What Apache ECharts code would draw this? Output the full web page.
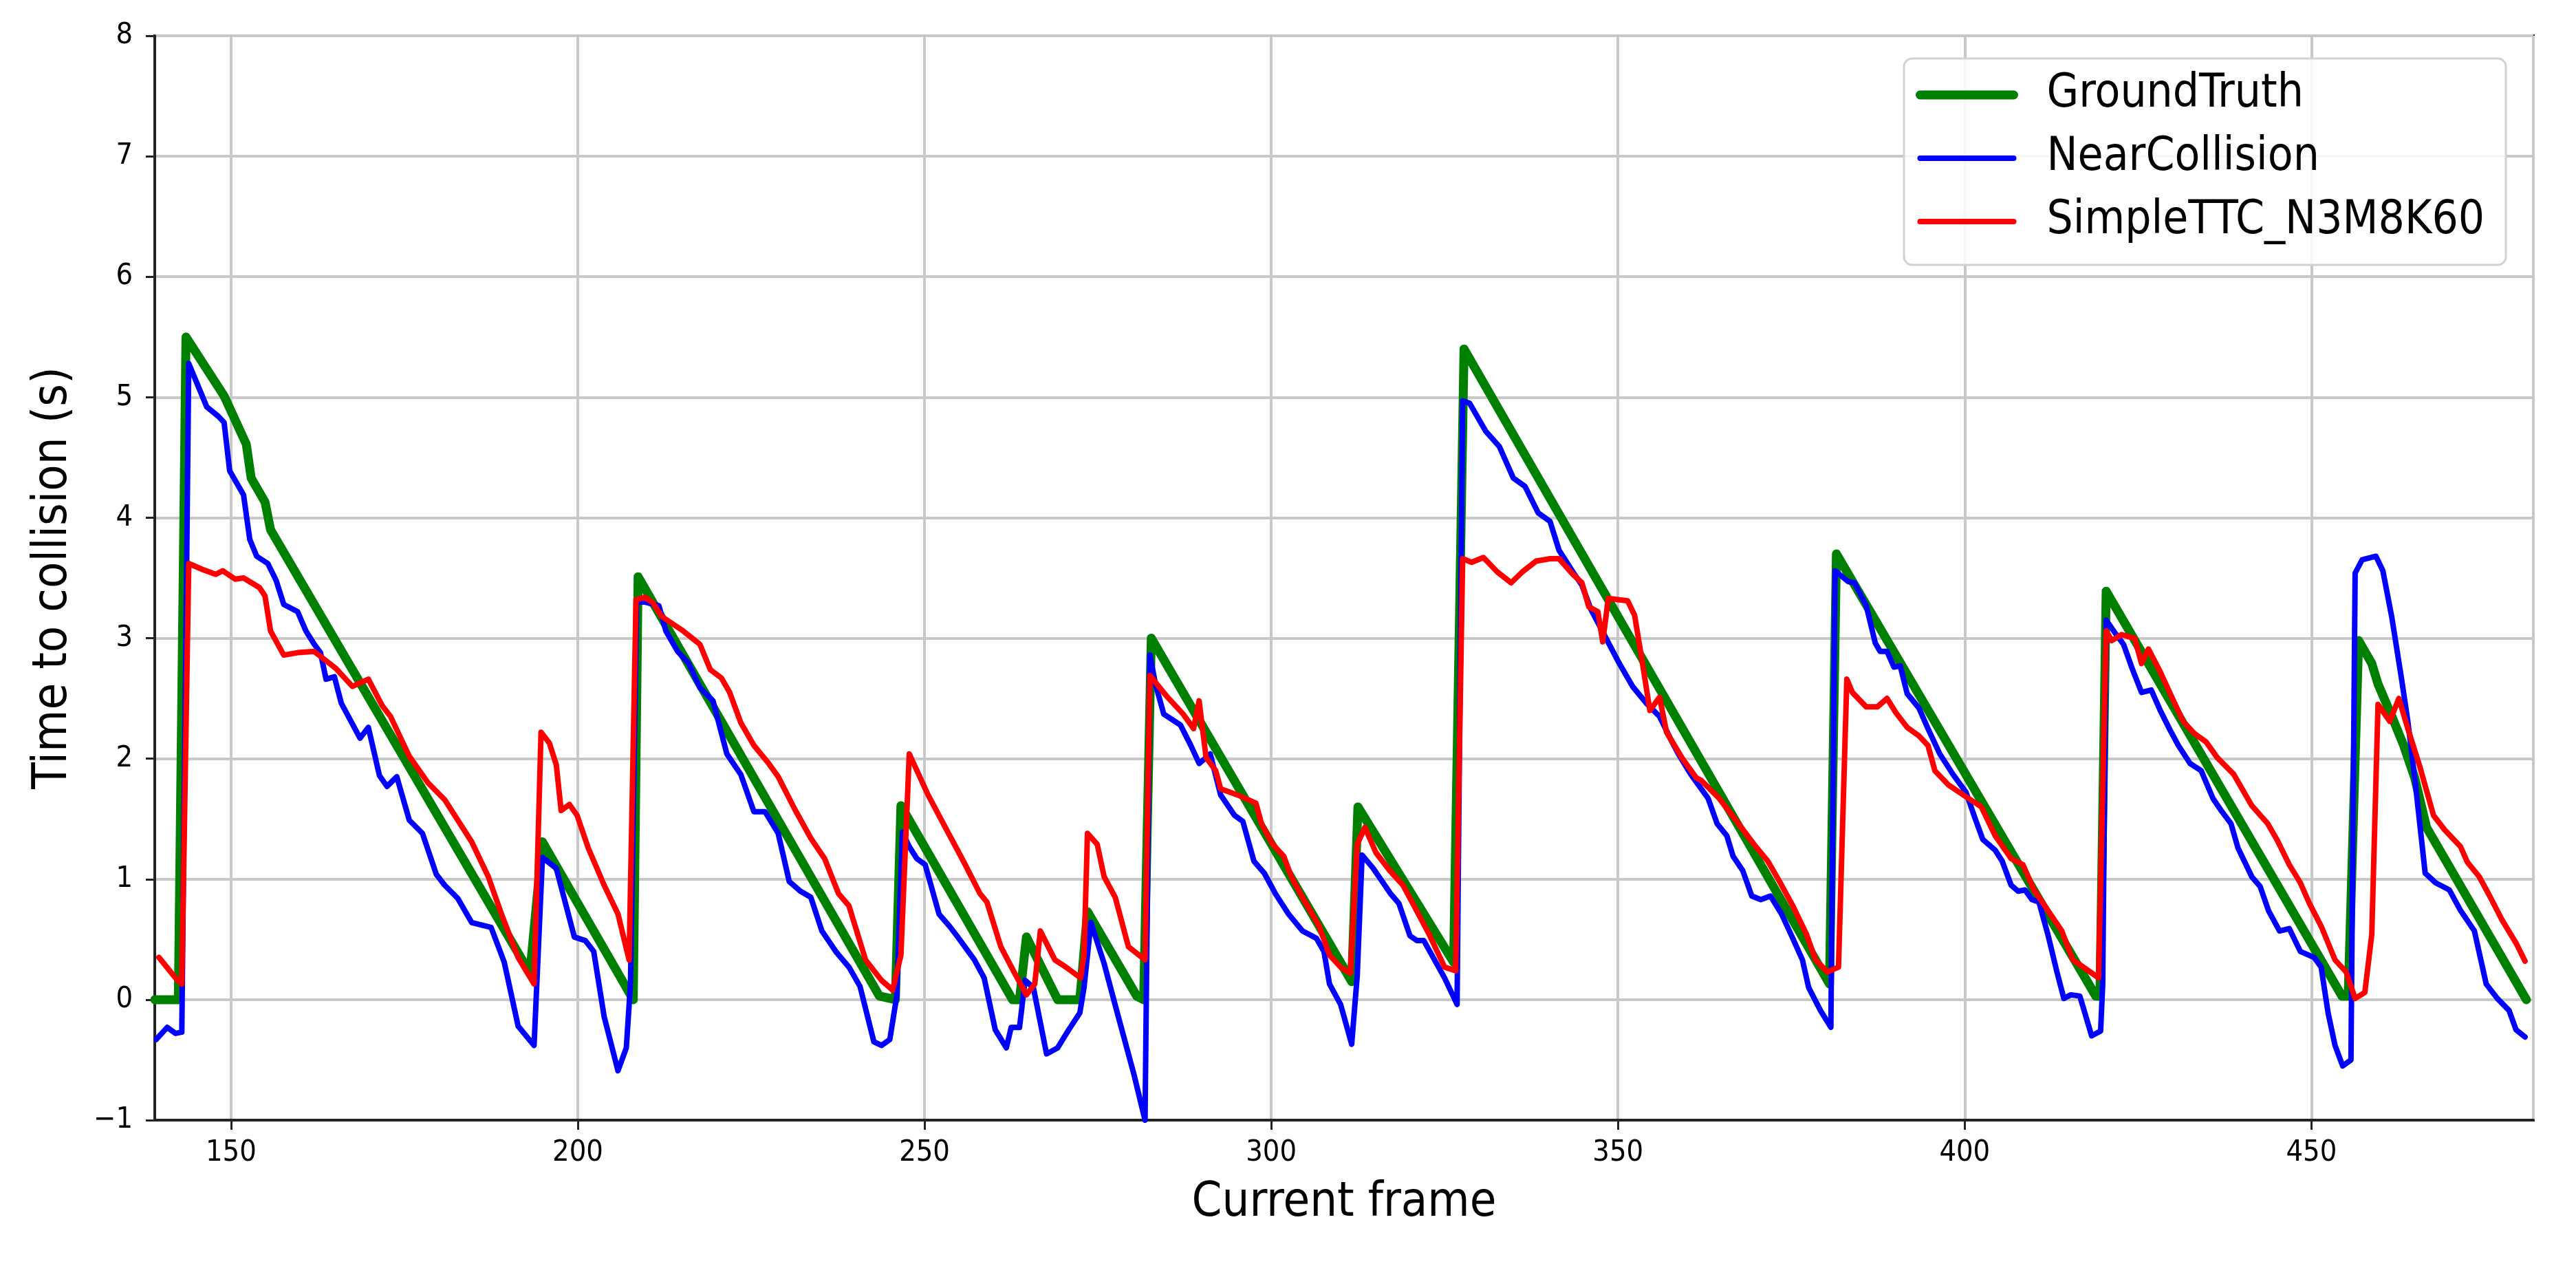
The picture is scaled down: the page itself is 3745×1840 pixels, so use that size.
<!DOCTYPE html>
<html>
<head>
<meta charset="utf-8">
<script src="https://cdn.jsdelivr.net/npm/echarts/dist/echarts.min.js"></script>
<style>
    html, body { margin: 0; padding: 0; background: #fff; }
    #chart { width: 3745px; height: 1840px; }
</style>
</head>
<body>
<div id="chart"></div>
<script>
// series names
var seriesNames = ['GroundTruth', 'NearCollision', 'SimpleTTC_N3M8K60'];

// GroundTruth (frame, ttc) - piecewise linear, read at its corners
var gtFrames = [139, 142.4, 143.5, 149.0, 152.2, 152.9, 154.9, 155.7, 193.1, 194.9, 207.0, 208.0, 208.7,
    243.5, 245.8, 246.6, 262.7, 263.7, 264.7, 269.2, 272.4, 273.5, 280.6, 281.6, 282.7, 311.6, 312.5,
    326.3, 327.8, 380.5, 381.5, 418.9, 419.5, 420.4, 454.4, 455.3, 456.8, 458.7, 459.6, 461.6, 463.3,
    464.9, 466.6, 481.0];
var gtTtc = [0, 0, 5.5, 5.01, 4.61, 4.33, 4.13, 3.9, 0.22, 1.31, 0.1, 0, 3.51,
    0.03, 0, 1.61, 0, 0, 0.52, 0, 0, 0.73, 0.03, 0, 3.0, 0.15, 1.6,
    0.31, 5.4, 0.13, 3.7, 0.03, 0.03, 3.39, 0.03, 0.03, 2.98, 2.79, 2.62, 2.35, 2.11,
    1.84, 1.43, 0];

// NearCollision
var ncFrames = [139.2, 140.8, 142.0, 142.9, 143.9, 146.5, 148.2, 149.0, 149.8, 151.8, 152.7, 153.7, 155.3,
    156.5, 157.6, 159.6, 160.8, 162.0, 162.9, 163.7, 164.9, 165.9, 168.6, 169.8, 171.4, 172.5, 173.9,
    175.7, 177.6, 179.6, 180.8, 182.7, 184.7, 187.5, 189.4, 191.4, 193.7, 194.9, 196.9, 199.5, 201.1,
    202.3, 203.8, 205.8, 207.0, 207.6, 208.5, 209.7, 211.7, 212.7, 214.4, 216.0, 217.6, 219.5, 221.5,
    223.5, 225.4, 227.0, 228.9, 230.5, 232.1, 233.6, 235.2, 237.2, 239.1, 240.7, 242.7, 243.8, 245.0,
    246.0, 246.8, 247.8, 248.9, 250.1, 252.1, 253.6, 254.8, 257.2, 258.6, 260.2, 261.8, 262.5, 263.7,
    264.5, 265.7, 267.6, 269.2, 270.8, 272.4, 273.0, 274.0, 275.9, 277.8, 280.2, 281.8, 282.5, 283.3,
    284.5, 286.9, 288.4, 289.6, 291.2, 292.7, 294.7, 295.9, 297.5, 299.0, 300.6, 302.5, 304.5, 306.5,
    307.6, 308.4, 310.0, 311.6, 312.4, 313.1, 314.7, 317.2, 318.4, 320.0, 321.0, 322.0, 325.0, 326.8,
    327.6, 328.6, 330.9, 332.9, 334.9, 336.6, 338.5, 340.2, 341.5, 343.5, 344.8, 346.1, 348.1, 350.1,
    352.1, 354.1, 356.0, 357.7, 358.7, 360.5, 363.0, 364.3, 365.7, 366.6, 368.0, 369.3, 370.6, 372.0,
    373.6, 375.2, 376.6, 377.5, 379.2, 380.7, 381.3, 383.2, 384.1, 385.8, 387.1, 387.8, 388.8, 389.8,
    390.7, 391.7, 393.4, 394.7, 396.4, 398.3, 400.2, 401.4, 402.6, 404.4, 405.4, 406.7, 407.7, 408.7,
    409.7, 410.7, 412.0, 413.3, 414.3, 415.3, 416.6, 418.3, 419.6, 419.9, 420.4, 421.6, 422.9, 424.2,
    425.5, 426.9, 428.2, 429.5, 430.8, 432.5, 434.1, 435.8, 437.1, 438.4, 439.4, 441.4, 442.6, 443.8,
    445.4, 446.8, 448.4, 450.4, 451.4, 452.4, 453.4, 454.5, 455.7, 456.3, 457.3, 459.3, 460.3, 461.6,
    463.0, 463.9, 464.9, 466.4, 467.9, 469.9, 471.5, 473.5, 475.2, 476.8, 478.5, 479.5, 480.8];
var ncTtc = [-0.33, -0.23, -0.28, -0.27, 5.28, 4.92, 4.84, 4.79, 4.39, 4.19, 3.82, 3.68, 3.62,
    3.48, 3.28, 3.22, 3.06, 2.95, 2.88, 2.66, 2.68, 2.46, 2.17, 2.26, 1.86, 1.77, 1.85,
    1.49, 1.38, 1.04, 0.95, 0.84, 0.64, 0.6, 0.31, -0.22, -0.38, 1.18, 1.09, 0.52, 0.49,
    0.4, -0.14, -0.59, -0.4, 0.13, 3.3, 3.3, 3.27, 3.06, 2.89, 2.79, 2.59, 2.48, 2.04,
    1.87, 1.56, 1.56, 1.38, 0.98, 0.9, 0.85, 0.57, 0.4, 0.27, 0.11, -0.35, -0.38, -0.33,
    0.03, 1.39, 1.27, 1.17, 1.12, 0.71, 0.61, 0.52, 0.33, 0.18, -0.25, -0.4, -0.23, -0.23,
    0.16, 0.1, -0.45, -0.4, -0.25, -0.11, 0.1, 0.64, 0.3, -0.11, -0.62, -1.0, 2.86, 2.62,
    2.37, 2.28, 2.11, 1.96, 2.04, 1.7, 1.53, 1.48, 1.15, 1.05, 0.88, 0.71, 0.57, 0.51,
    0.4, 0.13, -0.04, -0.37, 0.2, 1.2, 1.09, 0.88, 0.8, 0.53, 0.49, 0.49, 0.18, -0.04,
    4.97, 4.95, 4.72, 4.59, 4.33, 4.26, 4.04, 3.97, 3.73, 3.55, 3.44, 3.24, 3.02, 2.8,
    2.6, 2.46, 2.35, 2.15, 2.04, 1.87, 1.67, 1.46, 1.36, 1.19, 1.07, 0.86, 0.83, 0.86,
    0.71, 0.51, 0.33, 0.1, -0.09, -0.23, 3.56, 3.47, 3.46, 3.27, 2.96, 2.89, 2.89, 2.76,
    2.77, 2.54, 2.42, 2.25, 2.04, 1.87, 1.72, 1.52, 1.33, 1.24, 1.15, 0.95, 0.9, 0.91,
    0.83, 0.81, 0.54, 0.23, 0.01, 0.04, 0.03, -0.3, -0.26, 0.13, 3.15, 3.05, 2.95, 2.74,
    2.55, 2.57, 2.4, 2.25, 2.11, 1.96, 1.9, 1.67, 1.56, 1.46, 1.26, 1.02, 0.94, 0.74,
    0.57, 0.59, 0.4, 0.35, 0.27, -0.11, -0.38, -0.55, -0.5, 3.54, 3.65, 3.68, 3.56, 3.17,
    2.66, 2.31, 1.84, 1.05, 0.97, 0.91, 0.74, 0.57, 0.13, 0.01, -0.09, -0.25, -0.31];

// SimpleTTC_N3M8K60
var stFrames = [139.6, 142.0, 142.9, 143.9, 145.9, 147.8, 148.8, 150.6, 151.8, 154.1, 154.9, 155.7, 157.6,
    159.6, 162.0, 165.1, 167.5, 169.8, 171.8, 173.0, 175.7, 178.4, 180.8, 184.7, 187.1, 189.0, 191.4,
    193.7, 194.7, 195.9, 196.9, 197.6, 198.8, 199.9, 201.5, 203.8, 205.8, 207.4, 208.4, 209.7, 210.9,
    212.1, 215.2, 217.6, 219.1, 220.7, 221.9, 223.5, 225.4, 227.4, 228.9, 231.3, 233.6, 235.6, 237.6,
    239.1, 241.5, 243.8, 245.4, 246.6, 247.8, 250.5, 252.9, 255.6, 258.0, 259.0, 261.0, 262.9, 264.7,
    265.9, 266.7, 268.8, 270.4, 272.5, 273.0, 273.5, 274.9, 275.9, 277.5, 279.4, 281.8, 282.5, 284.9,
    287.3, 288.8, 289.6, 290.6, 292.0, 292.7, 295.1, 297.8, 298.6, 300.2, 301.8, 302.9, 304.5, 306.9,
    308.4, 310.0, 311.4, 312.4, 313.5, 315.1, 317.1, 319.0, 320.4, 322.7, 325.0, 326.6, 327.6, 328.9,
    330.6, 332.6, 334.6, 336.2, 338.2, 340.2, 341.5, 343.5, 344.8, 345.8, 347.1, 347.8, 348.6, 351.4,
    352.4, 353.4, 354.6, 356.0, 357.0, 359.3, 361.3, 362.0, 364.6, 367.0, 369.6, 371.6, 373.3, 375.2,
    377.2, 378.5, 380.2, 381.8, 383.0, 383.8, 385.8, 387.4, 388.8, 390.1, 391.7, 393.4, 394.7, 395.7,
    397.7, 400.3, 402.4, 404.4, 406.7, 408.4, 410.0, 412.0, 414.0, 415.6, 417.6, 419.3, 420.4, 421.2,
    422.6, 424.5, 425.5, 426.5, 428.2, 429.8, 431.5, 433.1, 434.8, 436.4, 438.8, 441.4, 443.7, 445.1,
    446.8, 448.4, 449.7, 451.4, 453.4, 455.0, 456.3, 457.7, 458.7, 459.6, 461.3, 462.6, 463.9, 465.6,
    467.6, 469.2, 471.5, 472.5, 474.2, 475.8, 477.5, 479.5, 480.8];
var stTtc = [0.35, 0.18, 0.13, 3.62, 3.57, 3.53, 3.56, 3.49, 3.5, 3.42, 3.35, 3.06, 2.86,
    2.88, 2.89, 2.75, 2.6, 2.66, 2.44, 2.35, 2.02, 1.8, 1.66, 1.31, 1.02, 0.71, 0.35,
    0.13, 2.22, 2.13, 1.95, 1.57, 1.62, 1.53, 1.26, 0.95, 0.71, 0.33, 3.32, 3.34, 3.29,
    3.18, 3.06, 2.95, 2.74, 2.67, 2.55, 2.3, 2.11, 1.97, 1.85, 1.58, 1.34, 1.17, 0.88,
    0.78, 0.33, 0.16, 0.08, 0.37, 2.04, 1.7, 1.44, 1.15, 0.88, 0.81, 0.44, 0.23, 0.04,
    0.13, 0.57, 0.33, 0.27, 0.18, 0.37, 1.38, 1.29, 1.02, 0.85, 0.44, 0.33, 2.69, 2.52,
    2.37, 2.25, 2.48, 2.01, 1.9, 1.75, 1.7, 1.63, 1.46, 1.29, 1.19, 1.02, 0.85, 0.61,
    0.37, 0.27, 0.22, 1.29, 1.43, 1.22, 1.07, 0.95, 0.8, 0.55, 0.27, 0.24, 3.66, 3.63,
    3.67, 3.55, 3.46, 3.55, 3.64, 3.66, 3.66, 3.53, 3.46, 3.26, 3.22, 2.97, 3.33, 3.31,
    3.19, 2.84, 2.4, 2.51, 2.22, 2.0, 1.84, 1.82, 1.67, 1.49, 1.29, 1.15, 0.98, 0.78,
    0.54, 0.33, 0.23, 0.27, 2.66, 2.55, 2.43, 2.43, 2.5, 2.38, 2.26, 2.19, 2.11, 1.9,
    1.78, 1.68, 1.6, 1.36, 1.17, 1.12, 0.91, 0.74, 0.57, 0.33, 0.25, 0.18, 3.06, 2.98,
    3.03, 3.0, 2.79, 2.91, 2.72, 2.52, 2.31, 2.21, 2.14, 2.01, 1.87, 1.61, 1.46, 1.32,
    1.12, 0.97, 0.8, 0.61, 0.33, 0.23, 0.01, 0.06, 0.54, 2.45, 2.31, 2.5, 2.25, 1.94,
    1.53, 1.41, 1.27, 1.14, 1.02, 0.85, 0.66, 0.47, 0.32];

var xMin = 139, xMax = 482;
var yMin = -1, yMax = 8;

var FONT = "'DejaVu Sans Condensed', 'Liberation Sans', sans-serif";

function pairs(xs, ys) {
    return xs.map(function (x, i) { return [x, ys[i]]; });
}

var chart = echarts.init(document.getElementById('chart'), null, { renderer: 'canvas' });

var axisColor = '#222';
var gridColor = '#c8c8c8';

chart.setOption({
    animation: false,
    backgroundColor: '#fff',
    grid: {
        left: 225, right: 62, top: 52, bottom: 212,
        show: true, borderColor: axisColor, borderWidth: 4
    },
    legend: {
        orient: 'vertical',
        left: 2768, top: 85,
        padding: [18, 31, 28, 17],
        itemWidth: 136, itemHeight: 14,
        itemGap: 22,
        backgroundColor: 'rgba(255,255,255,0.85)',
        borderColor: '#d2d2d2', borderWidth: 3, borderRadius: 12,
        lineStyle: { width: 'inherit' },
        itemStyle: { opacity: 0 },
        textStyle: { fontFamily: FONT, fontSize: 67, color: '#000', lineHeight: 70, padding: [0, 0, 0, 43] },
        data: seriesNames
    },
    xAxis: {
        type: 'value',
        min: xMin, max: xMax, splitNumber: 7,
        name: 'Current frame', nameLocation: 'middle', nameGap: 86,
        nameTextStyle: { fontFamily: FONT, fontSize: 70, color: '#000' },
        axisLine: { show: true, onZero: false, lineStyle: { color: axisColor, width: 4 } },
        axisTick: { show: true, length: 14, lineStyle: { color: axisColor, width: 3 } },
        axisLabel: {
            margin: 26, fontFamily: FONT, fontSize: 43, color: '#000',
            showMinLabel: false, showMaxLabel: false,
            formatter: function (v) { return v % 50 === 0 ? String(v) : ''; }
        },
        splitLine: { show: true, lineStyle: { color: gridColor, width: 4 } }
    },
    yAxis: {
        type: 'value',
        min: yMin, max: yMax, interval: 1,
        name: 'Time to collision (s)', nameLocation: 'middle', nameGap: 112, nameRotate: 90,
        nameTextStyle: { fontFamily: FONT, fontSize: 70, color: '#000' },
        axisLine: { show: true, onZero: false, lineStyle: { color: axisColor, width: 4 } },
        axisTick: { show: true, length: 13, lineStyle: { color: axisColor, width: 3 } },
        axisLabel: {
            margin: 32, fontFamily: FONT, fontSize: 43, color: '#000',
            formatter: function (v) { return v < 0 ? '\u2212' + Math.abs(v) : String(v); }
        },
        splitLine: { show: true, lineStyle: { color: gridColor, width: 4 } }
    },
    series: [
        {
            name: seriesNames[0], type: 'line', symbol: 'none', smooth: false,
            lineStyle: { color: '#008000', width: 13, join: 'round', cap: 'round' },
            itemStyle: { color: '#008000' },
            data: pairs(gtFrames, gtTtc)
        },
        {
            name: seriesNames[1], type: 'line', symbol: 'none', smooth: false,
            lineStyle: { color: '#0000ff', width: 8, join: 'round', cap: 'round' },
            itemStyle: { color: '#0000ff' },
            data: pairs(ncFrames, ncTtc)
        },
        {
            name: seriesNames[2], type: 'line', symbol: 'none', smooth: false,
            lineStyle: { color: '#ff0000', width: 8, join: 'round', cap: 'round' },
            itemStyle: { color: '#ff0000' },
            data: pairs(stFrames, stTtc)
        }
    ]
});
</script>
</body>
</html>
